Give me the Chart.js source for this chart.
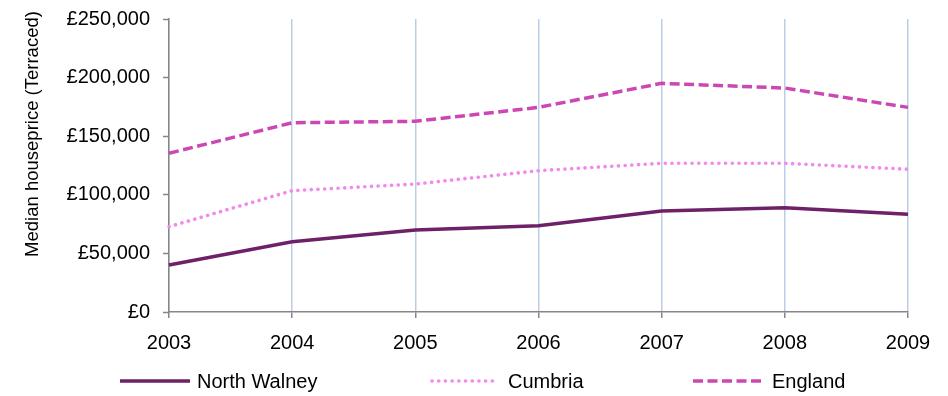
<!DOCTYPE html>
<html lang="en">
<head>
  <meta charset="UTF-8">
  <title>Median house price (Terraced)</title>
  <script src="https://cdn.jsdelivr.net/npm/chart.js"></script>
  <style>
    body {
      margin: 0;
      background: #fff;
      font-family: 'Liberation Sans', Arial, sans-serif;
    }
    .wrap {
      position: relative;
      width: 948px;
      height: 396px;
    }
    .legend {
      position: absolute;
      top: 369px;
      left: 0;
      width: 948px;
      height: 24px;
      font-size: 20px;
      color: #000;
    }
    .legend span, .legend svg {
      position: absolute;
      top: 0;
      line-height: 24px;
    }
  </style>
</head>
<body>
  <div class="wrap">
    <canvas id="chart" width="948" height="396"></canvas>
    <div class="legend" id="legend"></div>
  </div>

  <script>
    const years = ['2003', '2004', '2005', '2006', '2007', '2008', '2009'];
    const northWalney = [40100, 60000, 70000, 73600, 86200, 89000, 83400];
    const cumbria = [72800, 103500, 109200, 120600, 126900, 126900, 121800];
    const england = [135400, 161500, 162700, 174600, 195100, 191100, 174600];
    const yTicks = [0, 50000, 100000, 150000, 200000, 250000];

    const series = [
      { label: 'North Walney', data: northWalney, color: '#6E2168', dash: [], cap: 'butt', width: 3.5 },
      { label: 'Cumbria', data: cumbria, color: '#F28AEE', dash: [0.1, 6.6], cap: 'round', width: 3.6 },
      { label: 'England', data: england, color: '#CC47B3', dash: [10, 4.5], cap: 'butt', width: 3.5 }
    ];

    // rotated axis title, sits a bit above the axis centre like the original
    const yTitle = {
      id: 'yTitle',
      afterDraw(chart) {
        const ctx = chart.ctx;
        ctx.save();
        ctx.translate(33, 134);
        ctx.rotate(-Math.PI / 2);
        ctx.font = "18.5px 'Liberation Sans', Arial, sans-serif";
        ctx.fillStyle = '#000';
        ctx.textAlign = 'center';
        ctx.textBaseline = 'middle';
        ctx.fillText('Median houseprice (Terraced)', 0, 0);
        ctx.restore();
      }
    };

    const font = { family: "'Liberation Sans', Arial, sans-serif", size: 20 };

    new Chart(document.getElementById('chart'), {
      type: 'line',
      data: {
        labels: years,
        datasets: series.map(s => ({
          label: s.label,
          data: s.data,
          borderColor: s.color,
          backgroundColor: s.color,
          borderWidth: s.width,
          borderDash: s.dash,
          borderCapStyle: s.cap,
          pointRadius: 0,
          tension: 0,
          fill: false
        }))
      },
      options: {
        responsive: false,
        animation: false,
        layout: { padding: { left: 0, top: 19, right: 40, bottom: 44 } },
        plugins: {
          legend: { display: false },
          tooltip: { enabled: false }
        },
        scales: {
          x: {
            offset: false,
            grid: {
              color: '#BACFE6',
              lineWidth: 1.5,
              tickColor: '#868686',
              tickLength: 6,
              tickWidth: 1.5
            },
            border: { color: '#868686', width: 1.5 },
            ticks: { color: '#000', font: font, padding: 13, maxRotation: 0 },
            afterFit(scale) { scale.height = 40; }
          },
          y: {
            min: 0,
            max: 250000,
            afterBuildTicks(scale) { scale.ticks = yTicks.map(v => ({ value: v })); },
            grid: {
              drawOnChartArea: false,
              tickColor: '#868686',
              tickLength: 6,
              tickWidth: 1.5
            },
            border: { color: '#868686', width: 1.5 },
            ticks: {
              color: '#000',
              font: font,
              padding: 13,
              callback: v => '£' + v.toLocaleString('en-GB')
            },
            afterFit(scale) {
              scale.width = 169;
              scale.paddingTop = 0;
              scale.paddingBottom = 0;
            }
          }
        }
      },
      plugins: [yTitle]
    });

    // legend laid out under the plot like the original
    const legendPos = [
      { line: 120, len: 70, text: 197 },
      { line: 432, len: 63, text: 508 },
      { line: 693, len: 72, text: 772 }
    ];
    const legend = document.getElementById('legend');
    series.forEach((s, i) => {
      const p = legendPos[i];
      const svg = document.createElementNS('http://www.w3.org/2000/svg', 'svg');
      svg.setAttribute('width', p.len + 4);
      svg.setAttribute('height', 24);
      svg.style.left = (p.line - 2) + 'px';
      const ln = document.createElementNS('http://www.w3.org/2000/svg', 'line');
      ln.setAttribute('x1', 2);
      ln.setAttribute('x2', p.len + 2);
      ln.setAttribute('y1', 12);
      ln.setAttribute('y2', 12);
      ln.setAttribute('stroke', s.color);
      ln.setAttribute('stroke-width', s.width);
      ln.setAttribute('stroke-linecap', s.cap);
      if (s.dash.length) ln.setAttribute('stroke-dasharray', s.dash.join(' '));
      svg.appendChild(ln);
      legend.appendChild(svg);
      const t = document.createElement('span');
      t.textContent = s.label;
      t.style.left = p.text + 'px';
      legend.appendChild(t);
    });
  </script>
</body>
</html>
